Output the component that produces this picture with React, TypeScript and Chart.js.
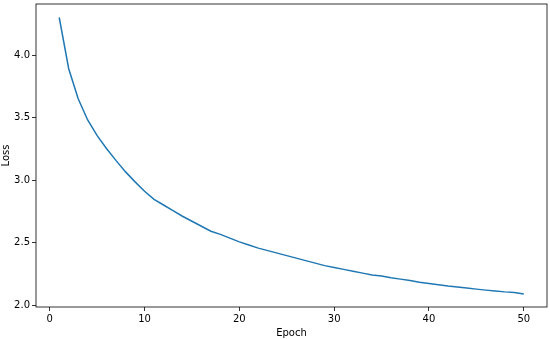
import React, { useEffect, useRef } from "react";
import { Chart, registerables } from "chart.js";

Chart.register(...registerables);

const epochs: number[] = Array.from({ length: 50 }, (_, i) => i + 1);
const loss: number[] = [
  4.30, 3.89, 3.65, 3.48, 3.355, 3.25, 3.155, 3.065, 2.985, 2.91,
  2.845, 2.80, 2.755, 2.71, 2.67, 2.63, 2.59, 2.565, 2.535, 2.505,
  2.48, 2.455, 2.435, 2.415, 2.395, 2.375, 2.355, 2.335, 2.315, 2.30,
  2.285, 2.27, 2.255, 2.24, 2.232, 2.218, 2.207, 2.196, 2.182, 2.172,
  2.162, 2.152, 2.144, 2.136, 2.127, 2.119, 2.112, 2.105, 2.10, 2.088,
];
const xTicks: number[] = [0, 10, 20, 30, 40, 50];
const yTicks: number[] = [2.0, 2.5, 3.0, 3.5, 4.0];

const FONT = "'DejaVu Sans', sans-serif";

const framePlugin = {
  id: "frame",
  afterDraw(chart: any) {
    const { ctx, chartArea } = chart;
    ctx.save();
    ctx.strokeStyle = "#000";
    ctx.lineWidth = 0.8;
    ctx.strokeRect(chartArea.left, chartArea.top, chartArea.right - chartArea.left, chartArea.bottom - chartArea.top);
    ctx.restore();
  },
};

export default function App() {
  const ref = useRef<HTMLCanvasElement>(null);
  useEffect(() => {
    document.body.style.margin = "0";
    const chart = new Chart(ref.current!, {
      type: "line",
      data: {
        datasets: [
          {
            data: epochs.map((e, i) => ({ x: e, y: loss[i] })),
            borderColor: "#1f77b4",
            borderWidth: 1.5,
            pointRadius: 0,
            tension: 0,
            fill: false,
          },
        ],
      },
      options: {
        animation: false,
        responsive: false,
        layout: { padding: { top: 4, right: 3, left: 0, bottom: 0 } },
        plugins: { legend: { display: false }, tooltip: { enabled: false } },
        scales: {
          x: {
            type: "linear",
            min: -1.45,
            max: 52.45,
            afterBuildTicks: (s: any) => {
              s.ticks = xTicks.map((v) => ({ value: v }));
            },
            afterFit: (s: any) => {
              s.height = 32;
              s.paddingLeft = 0;
              s.paddingRight = 0;
            },
            grid: { drawOnChartArea: false, tickLength: 4, tickColor: "#000", tickWidth: 0.8 },
            border: { display: false },
            ticks: { color: "#000", font: { family: FONT, size: 10 }, padding: 2, maxRotation: 0, callback: (v: any) => String(v) },
            title: { display: true, text: "Epoch", color: "#000", font: { family: FONT, size: 10 }, padding: { top: 0, bottom: 0 } },
          },
          y: {
            type: "linear",
            min: 1.984,
            max: 4.408,
            afterBuildTicks: (s: any) => {
              s.ticks = yTicks.map((v) => ({ value: v }));
            },
            afterFit: (s: any) => {
              s.width = 36;
              s.paddingTop = 0;
              s.paddingBottom = 0;
            },
            grid: { drawOnChartArea: false, tickLength: 4, tickColor: "#000", tickWidth: 0.8 },
            border: { display: false },
            ticks: { color: "#000", font: { family: FONT, size: 10 }, padding: 2, callback: (v: any) => Number(v).toFixed(1) },
            title: { display: true, text: "Loss", color: "#000", font: { family: FONT, size: 10 }, padding: { top: 0, bottom: 2 } },
          },
        },
      },
      plugins: [framePlugin],
    });
    return () => chart.destroy();
  }, []);
  return (
    <div style={{ width: 550, height: 339, background: "#fff" }}>
      <canvas ref={ref} width={550} height={339} style={{ display: "block" }} />
    </div>
  );
}
